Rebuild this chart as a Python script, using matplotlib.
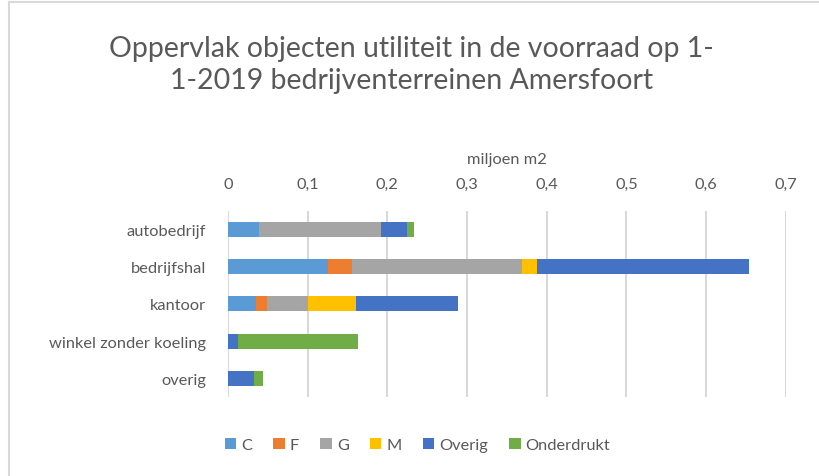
import matplotlib.pyplot as plt
import numpy as np
from matplotlib.lines import Line2D
from matplotlib.ticker import FuncFormatter

categories = ["autobedrijf", "bedrijfshal", "kantoor", "winkel zonder koeling", "overig"]
series = ["C", "F", "G", "M", "Overig", "Onderdrukt"]
# miljoen m2 per energielabel-groep
C = [0.039, 0.125, 0.035, 0.0, 0.0]
F = [0.0, 0.031, 0.014, 0.0, 0.0]
G = [0.153, 0.213, 0.051, 0.0, 0.0]
M = [0.0, 0.019, 0.061, 0.0, 0.0]
Overig = [0.033, 0.266, 0.128, 0.013, 0.032]
Onderdrukt = [0.009, 0.0, 0.0, 0.150, 0.012]
colors = ["#5B9BD5", "#ED7D31", "#A5A5A5", "#FFC000", "#4472C4", "#70AD47"]

plt.rcParams['font.family'] = ['Lato', 'DejaVu Sans']
txt = "#595959"

fig = plt.figure(figsize=(8.19, 4.77), dpi=100)
ax = fig.add_axes([0.2784, 0.1656, 0.681, 0.3906])

y = np.arange(len(categories))
left = np.zeros(len(categories))
for name, vals, col in zip(series, [C, F, G, M, Overig, Onderdrukt], colors):
    vals = np.array(vals)
    ax.barh(y, vals, left=left, height=0.4, color=col, label=name, zorder=3)
    left += vals

ax.set_xlim(0, 0.7)
ax.set_ylim(len(categories) - 0.5, -0.5)
ax.set_yticks(y)
ax.set_yticklabels(categories, fontsize=11.8, color=txt)
ax.set_xticks(np.arange(0, 0.71, 0.1))
ax.xaxis.set_major_formatter(FuncFormatter(lambda v, p: ("%g" % round(v, 1)).replace(".", ",")))
ax.xaxis.tick_top()
ax.xaxis.set_label_position("top")
ax.set_xlabel("miljoen m2", fontsize=11.8, color=txt, labelpad=10)
ax.tick_params(axis="x", length=0, labelsize=11.8, labelcolor=txt, pad=14)
ax.tick_params(axis="y", length=0, pad=16)
ax.grid(axis="x", color="#D9D9D9", linewidth=1.5, zorder=0)
for s in ax.spines.values():
    s.set_visible(False)

fig.text(0.502, 0.864, "Oppervlak objecten utiliteit in de voorraad op 1-\n1-2019 bedrijventerreinen Amersfoort",
         ha="center", va="center", fontsize=20.5, color=txt, linespacing=1.3)

ax.legend(loc="center", bbox_to_anchor=(0.51, 0.065), bbox_transform=fig.transFigure,
          ncol=6, frameon=False, fontsize=11.8, labelcolor=txt,
          handlelength=0.7, handleheight=0.7, handletextpad=0.3, columnspacing=1.3)

# chart frame (cropped)
fig.add_artist(Line2D([0.0105, 0.0105], [0, 0.994], color="#D9D9D9", linewidth=1.5, transform=fig.transFigure))
fig.add_artist(Line2D([0.0105, 1.0], [0.994, 0.994], color="#D9D9D9", linewidth=1.5, transform=fig.transFigure))

fig.savefig("out.png", dpi=100)
